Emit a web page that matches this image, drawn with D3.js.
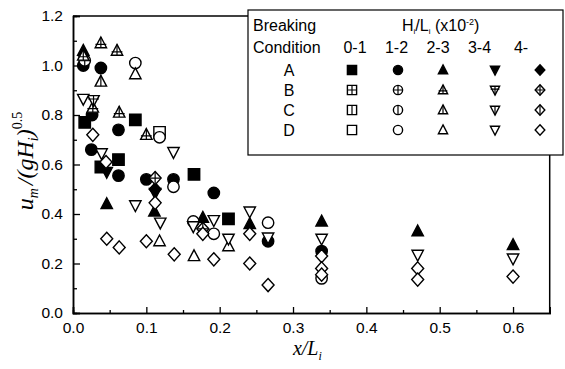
<!DOCTYPE html>
<html>
<head>
<meta charset="utf-8">
<script src="https://cdn.jsdelivr.net/npm/d3@7"></script>
<style>
  body { margin: 0; background: #fff; }
  text { font-family: "Liberation Sans", Arial, sans-serif; }
</style>
</head>
<body>
<svg id="chart"></svg>
<script>
// data: [x/Li, um/(gHi)^0.5]
const A01 = [[0.016, 0.77], [0.085, 0.78], [0.062, 0.62], [0.038, 0.59], [0.165, 0.56], [0.212, 0.38]];
const A12 = [[0.014, 1.00], [0.038, 0.99], [0.026, 0.80], [0.062, 0.74], [0.025, 0.66], [0.062, 0.555],
             [0.100, 0.54], [0.137, 0.54], [0.192, 0.485], [0.266, 0.29], [0.339, 0.25]];
const A23 = [[0.014, 1.06], [0.046, 0.44], [0.111, 0.41], [0.177, 0.385], [0.241, 0.36], [0.339, 0.37],
             [0.470, 0.33], [0.600, 0.275]];
const A34 = [[0.046, 0.57], [0.112, 0.485]];
const A4 = [[0.112, 0.50]];
const B12 = [[0.016, 1.02]];
const B23 = [[0.014, 1.04], [0.038, 1.09], [0.060, 1.06], [0.027, 0.83], [0.063, 0.81], [0.100, 0.72]];
const B34 = [[0.028, 0.86]];
const B4 = [[0.112, 0.545], [0.177, 0.34]];
const C23 = [[0.038, 0.935]];
const D01 = [[0.118, 0.73]];
const D12 = [[0.085, 1.01], [0.118, 0.71], [0.137, 0.51], [0.164, 0.37], [0.192, 0.32], [0.266, 0.365], [0.339, 0.14]];
const D23 = [[0.085, 0.965], [0.118, 0.29], [0.165, 0.23], [0.212, 0.27]];
const D34 = [[0.014, 0.865], [0.039, 0.645], [0.137, 0.65], [0.085, 0.435], [0.119, 0.365], [0.164, 0.35],
             [0.192, 0.375], [0.212, 0.30], [0.241, 0.41], [0.266, 0.305], [0.339, 0.30], [0.470, 0.235], [0.600, 0.22]];
const D4 = [[0.027, 0.72], [0.045, 0.61], [0.046, 0.30], [0.063, 0.265], [0.100, 0.29], [0.112, 0.445],
            [0.138, 0.237], [0.177, 0.32], [0.192, 0.217], [0.241, 0.32], [0.241, 0.20], [0.266, 0.113],
            [0.339, 0.23], [0.339, 0.18], [0.339, 0.155], [0.470, 0.18], [0.470, 0.135], [0.600, 0.147]];

const conditions = ["A", "B", "C", "D"];
const ranges = ["0-1", "1-2", "2-3", "3-4", "4-"];
const xTicks = [0, 0.1, 0.2, 0.3, 0.4, 0.5, 0.6];
const yTicks = [0, 0.2, 0.4, 0.6, 0.8, 1.0, 1.2];

const series = [
  { cond: "A", range: "0-1", pts: A01 }, { cond: "A", range: "1-2", pts: A12 },
  { cond: "A", range: "2-3", pts: A23 }, { cond: "A", range: "3-4", pts: A34 },
  { cond: "A", range: "4-", pts: A4 },
  { cond: "B", range: "1-2", pts: B12 }, { cond: "B", range: "2-3", pts: B23 },
  { cond: "B", range: "3-4", pts: B34 }, { cond: "B", range: "4-", pts: B4 },
  { cond: "C", range: "2-3", pts: C23 },
  { cond: "D", range: "0-1", pts: D01 }, { cond: "D", range: "1-2", pts: D12 },
  { cond: "D", range: "2-3", pts: D23 }, { cond: "D", range: "3-4", pts: D34 },
  { cond: "D", range: "4-", pts: D4 }
];

let width = 565, height = 369;
let margin = { top: 16, right: 15.3, bottom: 56, left: 73 };

let svg = d3.select("#chart").attr("width", width).attr("height", height);

let x = d3.scaleLinear().domain([0, 0.65]).range([margin.left, width - margin.right]);
let y = d3.scaleLinear().domain([0, 1.2]).range([height - margin.bottom, margin.top]);

// marker outline, r = half width
function shapePath(range, r) {
  if (range === "0-1") return `M${-r},${-r}H${r}V${r}H${-r}Z`;
  if (range === "1-2") return `M${r},0A${r},${r} 0 1,1 ${-r},0A${r},${r} 0 1,1 ${r},0Z`;
  if (range === "2-3") return `M0,${-1.1 * r}L${r},${0.8 * r}H${-r}Z`;
  if (range === "3-4") return `M0,${1.1 * r}L${r},${-0.8 * r}H${-r}Z`;
  return `M0,${-1.15 * r}L${1.05 * r},0L0,${1.15 * r}L${-1.05 * r},0Z`;
}
function crossPath(cond, range, r) {
  let top = -r, bot = r;
  if (range === "2-3") { top = -1.1 * r; bot = 0.8 * r; }
  if (range === "3-4") { top = -0.8 * r; bot = 1.1 * r; }
  if (range === "4-") { top = -1.15 * r; bot = 1.15 * r; }
  let p = `M0,${top}V${bot}`;
  if (cond === "B") {
    let hy = range === "2-3" ? 0.2 * r : range === "3-4" ? -0.2 * r : 0;
    p += `M${-r * 0.95},${hy}H${r * 0.95}`;
  }
  return p;
}
function drawMarker(g, cond, range, r) {
  g.append("path")
    .attr("d", shapePath(range, r))
    .attr("fill", cond === "A" ? "#000" : "#fff")
    .attr("stroke", "#000")
    .attr("stroke-width", 1.4);
  if (cond === "B" || cond === "C") {
    g.append("path")
      .attr("d", crossPath(cond, range, r))
      .attr("stroke", "#000")
      .attr("stroke-width", 1.2)
      .attr("fill", "none");
  }
}

// axes
let xAxis = svg.append("g")
  .attr("transform", `translate(0, ${y(0)})`)
  .call(d3.axisBottom(x).tickValues(xTicks).tickSize(-6).tickPadding(9).tickFormat(d3.format(".1f")));
svg.append("g")
  .attr("transform", `translate(0, ${y(0)})`)
  .call(d3.axisBottom(x).tickValues(d3.range(0.05, 0.65, 0.1)).tickSize(-3).tickFormat(""));
let yAxis = svg.append("g")
  .attr("transform", `translate(${x(0)}, 0)`)
  .call(d3.axisLeft(y).tickValues(yTicks).tickSize(-7).tickPadding(10).tickFormat(d3.format(".1f")));
svg.append("g")
  .attr("transform", `translate(${x(0)}, 0)`)
  .call(d3.axisLeft(y).tickValues(d3.range(0.1, 1.2, 0.2)).tickSize(-4).tickFormat(""));

svg.selectAll(".tick text").attr("font-size", 15.5).attr("font-family", "Liberation Sans, Arial, sans-serif").attr("fill", "#000");
svg.selectAll(".domain").attr("stroke-width", 1.5);
svg.selectAll(".tick line").attr("stroke-width", 1.3);

// frame top and right
svg.append("line").attr("x1", x(0)).attr("x2", x(0.65)).attr("y1", y(1.2)).attr("y2", y(1.2))
  .attr("stroke", "#000").attr("stroke-width", 1.5);
svg.append("line").attr("x1", x(0.65)).attr("x2", x(0.65)).attr("y1", y(1.2)).attr("y2", y(0))
  .attr("stroke", "#000").attr("stroke-width", 1.5);

// points
series.forEach(s => {
  s.pts.forEach(p => {
    let g = svg.append("g").attr("transform", `translate(${x(p[0])}, ${y(p[1])})`);
    drawMarker(g, s.cond, s.range, 5.7);
  });
});

// axis titles
let xt = svg.append("text")
  .attr("x", (x(0) + x(0.65)) / 2 - 4).attr("y", 355)
  .attr("text-anchor", "middle")
  .style("font-family", "Liberation Serif, Times New Roman, serif")
  .style("font-style", "italic").attr("font-size", 20);
xt.append("tspan").text("x/L");
xt.append("tspan").attr("font-size", 12).attr("dy", 5).text("i");

let yt = svg.append("text")
  .attr("transform", `translate(33, 161) rotate(-90)`)
  .attr("text-anchor", "middle")
  .style("font-family", "Liberation Serif, Times New Roman, serif")
  .style("font-style", "italic").attr("font-size", 24);
yt.append("tspan").text("u");
yt.append("tspan").attr("font-size", 14).attr("dy", 5).text("m");
yt.append("tspan").attr("dy", -5).attr("dx", 3).text("/(gH");
yt.append("tspan").attr("font-size", 14).attr("dy", 5).text("i");
yt.append("tspan").attr("dy", -5).text(")");
yt.append("tspan").attr("font-size", 14).attr("dy", -11).style("font-style", "normal").text("0.5");

// legend
let lg = svg.append("g");
lg.append("rect").attr("x", 248).attr("y", 10).attr("width", 315).attr("height", 145)
  .attr("fill", "#fff").attr("stroke", "#000").attr("stroke-width", 1.2);
lg.append("text").attr("x", 253).attr("y", 31).attr("font-size", 16).text("Breaking");
lg.append("text").attr("x", 253).attr("y", 53).attr("font-size", 16).text("Condition");
let ht = lg.append("text").attr("x", 402).attr("y", 31).attr("font-size", 16);
ht.append("tspan").text("H");
ht.append("tspan").attr("font-size", 8).attr("dy", 3).text("i");
ht.append("tspan").attr("dy", -3).text("/L");
ht.append("tspan").attr("font-size", 8).attr("dy", 3).text("i");
ht.append("tspan").attr("dy", -3).text(" (x10");
ht.append("tspan").attr("font-size", 9).attr("dy", -6).text("-2");
ht.append("tspan").attr("dy", 6).text(")");

let labelX = d3.scalePoint().domain(ranges).range([355, 521]);
let symX = d3.scaleOrdinal().domain(ranges).range([352, 398, 443, 495, 540]);
let rowY = d3.scalePoint().domain(conditions).range([70, 130]);

ranges.forEach(rg => {
  lg.append("text").attr("x", labelX(rg)).attr("y", 53).attr("text-anchor", "middle")
    .attr("font-size", 16).text(rg);
});
conditions.forEach(c => {
  lg.append("text").attr("x", 289).attr("y", rowY(c) + 5.5).attr("text-anchor", "middle")
    .attr("font-size", 16).text(c);
  ranges.forEach(rg => {
    let g = lg.append("g").attr("transform", `translate(${symX(rg)}, ${rowY(c)})`);
    drawMarker(g, c, rg, 4.6);
  });
});
</script>
</body>
</html>
